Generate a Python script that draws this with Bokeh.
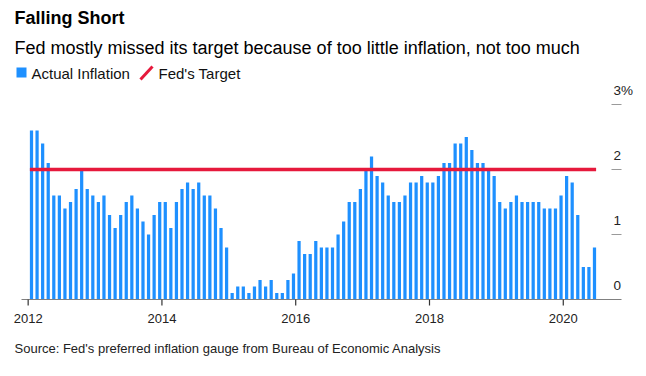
from bokeh.plotting import figure
from bokeh.models import (Label, LabelSet, ColumnDataSource, Range1d, BoxAnnotation, Arrow)
from bokeh.core.properties import value
from bokeh.embed import file_html
from bokeh.resources import INLINE

# ---------------- data ----------------
title_text = "Falling Short"
subtitle_text = "Fed mostly missed its target because of too little inflation, not too much"
source_text = "Source: Fed's preferred inflation gauge from Bureau of Economic Analysis"
series_names = ["Actual Inflation", "Fed's Target"]

start_year = 2012  # monthly values from Jan 2012
inflation = [
    2.6, 2.6, 2.4, 2.1, 1.6, 1.6, 1.4, 1.5, 1.7, 2.0, 1.7, 1.6,   # 2012
    1.5, 1.6, 1.3, 1.1, 1.3, 1.5, 1.6, 1.4, 1.2, 1.0, 1.3, 1.5,   # 2013
    1.5, 1.1, 1.5, 1.7, 1.8, 1.7, 1.8, 1.6, 1.6, 1.4, 1.1, 0.8,   # 2014
    0.1, 0.2, 0.2, 0.1, 0.2, 0.3, 0.2, 0.3, 0.1, 0.1, 0.3, 0.4,   # 2015
    0.9, 0.7, 0.7, 0.9, 0.8, 0.8, 0.8, 1.0, 1.2, 1.5, 1.5, 1.7,   # 2016
    2.0, 2.2, 1.9, 1.8, 1.6, 1.5, 1.5, 1.6, 1.8, 1.8, 1.9, 1.8,   # 2017
    1.8, 1.9, 2.1, 2.1, 2.4, 2.4, 2.5, 2.3, 2.1, 2.1, 2.0, 1.9,   # 2018
    1.5, 1.4, 1.5, 1.6, 1.5, 1.5, 1.5, 1.5, 1.4, 1.4, 1.4, 1.6,   # 2019
    1.9, 1.8, 1.3, 0.5, 0.5, 0.8,                                 # 2020
]
fed_target = 2.0
year_ticks = [2012, 2014, 2016, 2018, 2020]
year_labels = ["2012", "2014", "2016", "2018", "2020"]
y_ticks = [0, 1, 2, 3]
y_tick_labels = ["0", "1", "2", "3%"]

# ---------------- layout / style ----------------
W, H = 646, 376
PX_PER_YEAR = 66.89        # horizontal scale (5.57 px per month)
PX_PER_UNIT = 65.0         # vertical scale (px per percentage point)
FIRST_BAR_PX = 31.0        # page x of first bar centre
ZERO_PX = 299.0            # page y of the zero line
AXIS_LEFT_PX, AXIS_RIGHT_PX = 21.0, 621.0
YTICK_LEFT_PX = 611.0
BLUE = "#1e90ff"
RED = "#e6193c"
FONT = "Liberation Sans"
BAR_W = 0.58 / 12
MONTH_OFFSET = 0.6

n = len(inflation)
xs = [start_year + (i + MONTH_OFFSET) / 12 for i in range(n)]

x_left = xs[0] - FIRST_BAR_PX / PX_PER_YEAR
x_right = x_left + W / PX_PER_YEAR
y_top = ZERO_PX / PX_PER_UNIT
y_bottom = -(H - ZERO_PX) / PX_PER_UNIT


def px_to_x(px):
    return x_left + px / PX_PER_YEAR


p = figure(width=W, height=H, output_backend="svg", toolbar_location=None,
           x_range=Range1d(x_left, x_right), y_range=Range1d(y_bottom, y_top),
           x_axis_location=None, y_axis_location=None,
           min_border=0, min_border_left=0, min_border_right=0,
           min_border_top=0, min_border_bottom=0)
p.outline_line_color = None
p.background_fill_color = "white"
p.border_fill_color = "white"
p.grid.visible = False

# bars
src = ColumnDataSource(dict(x=xs, top=inflation))
p.vbar(x="x", top="top", bottom=0, width=BAR_W, source=src,
       fill_color=BLUE, line_color=None)

# baseline (x axis line)
p.segment(x0=[px_to_x(AXIS_LEFT_PX)], y0=[0], x1=[px_to_x(AXIS_RIGHT_PX)], y1=[0],
          line_color="#808080", line_width=1.2)

# x ticks + labels
tick_len = 6 / PX_PER_UNIT
p.segment(x0=year_ticks, y0=[0] * len(year_ticks), x1=year_ticks,
          y1=[-tick_len] * len(year_ticks), line_color="#333333", line_width=1.2)
xsrc = ColumnDataSource(dict(x=year_ticks, y=[0] * len(year_ticks), text=year_labels))
p.add_layout(LabelSet(x="x", y="y", text="text", source=xsrc, y_offset=-23,
                      text_font=value(FONT), text_font_size=value("13px"),
                      text_color="#222222",
                      text_align="center", text_baseline="alphabetic"))

# right-hand y ticks + labels
yt = [t for t in y_ticks if t > 0]
p.segment(x0=[px_to_x(YTICK_LEFT_PX)] * len(yt), y0=yt,
          x1=[px_to_x(AXIS_RIGHT_PX)] * len(yt), y1=yt,
          line_color="#9a9a9a", line_width=1.2)
ysrc = ColumnDataSource(dict(x=[px_to_x(YTICK_LEFT_PX + 2)] * len(y_ticks),
                             y=y_ticks, text=y_tick_labels))
p.add_layout(LabelSet(x="x", y="y", text="text", source=ysrc, y_offset=10,
                      text_font=value(FONT), text_font_size=value("13.5px"),
                      text_color="#222222",
                      text_baseline="alphabetic", text_align="left"))

# Fed target line
p.segment(x0=[xs[0] - BAR_W / 2], y0=[fed_target], x1=[xs[-1] + BAR_W / 2], y1=[fed_target],
          line_color=RED, line_width=3.5)


def lab(txt, x, y_page, size, style="normal", color="#111111"):
    p.add_layout(Label(x=x, y=H - y_page, x_units="screen", y_units="screen", text=txt,
                       text_font=FONT, text_font_size=size, text_font_style=style,
                       text_color=color, text_baseline="alphabetic", text_align="left"))


lab(title_text, 14, 17.5, "18px", "bold", "#000000")
lab(subtitle_text, 14, 47, "18px", "normal", "#000000")
lab(series_names[0], 31, 72.5, "15px", "normal", "#111111")
lab(series_names[1], 158, 72.5, "15px", "normal", "#111111")
lab(source_text, 14, 347.5, "13px", "normal", "#222222")

# legend markers
p.add_layout(BoxAnnotation(left=16, right=26, bottom=H - 77, top=H - 67,
                           left_units="screen", right_units="screen",
                           bottom_units="screen", top_units="screen",
                           fill_color=BLUE, fill_alpha=1, line_color=None))
p.add_layout(Arrow(x_start=140, y_start=H - 79, x_end=152, y_end=H - 66,
                   start_units="screen", end_units="screen", end=None,
                   line_color=RED, line_width=3))

open("out.html", "w").write(file_html(p, INLINE))
